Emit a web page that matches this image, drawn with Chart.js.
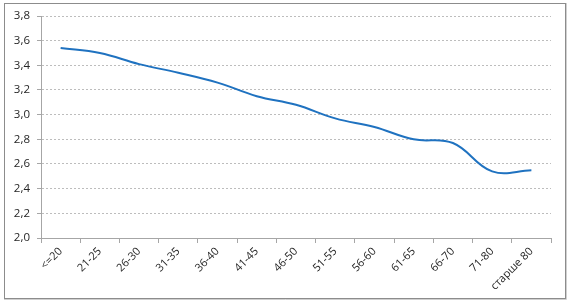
<!DOCTYPE html>
<html>
<head>
<meta charset="utf-8">
<script src="https://cdn.jsdelivr.net/npm/chart.js@4/dist/chart.umd.min.js"></script>
<style>
html,body{margin:0;padding:0;background:#fff;}
#wrap{position:relative;width:570px;height:304px;}
</style>
</head>
<body>
<div id="wrap"><canvas id="c" width="570" height="304"></canvas></div>
<script>
const categories = ['<=20','21-25','26-30','31-35','36-40','41-45','46-50','51-55','56-60','61-65','66-70','71-80','старше 80'];
const values = [3.54, 3.50, 3.41, 3.34, 3.26, 3.15, 3.08, 2.97, 2.90, 2.80, 2.77, 2.54, 2.55];
const yTickLabels = ['2,0','2,2','2,4','2,6','2,8','3,0','3,2','3,4','3,6','3,8'];

const frame = {
  id: 'frame',
  afterDraw(chart) {
    const ctx = chart.ctx;
    ctx.save();
    ctx.strokeStyle = '#d0d0d0';
    ctx.lineWidth = 1;
    ctx.beginPath();
    ctx.moveTo(566.5, 3);
    ctx.lineTo(566.5, 299.5);
    ctx.lineTo(4, 299.5);
    ctx.stroke();
    ctx.strokeStyle = '#8c8c8c';
    ctx.strokeRect(4.5, 3.5, 561, 295);
    ctx.restore();
  }
};

new Chart(document.getElementById('c'), {
  type: 'line',
  data: {
    labels: categories,
    datasets: [{
      data: values,
      borderColor: '#1f72c0',
      borderWidth: 2,
      pointRadius: 0,
      tension: 0.4,
      fill: false
    }]
  },
  options: {
    responsive: false,
    animation: false,
    devicePixelRatio: 1,
    layout: { padding: { left: 0, right: 19, top: 16, bottom: 0 } },
    plugins: { legend: { display: false }, tooltip: { enabled: false } },
    scales: {
      x: {
        offset: true,
        grid: { offset: true, drawOnChartArea: false, drawTicks: true, tickLength: 5, color: '#a6a6a6' },
        border: { display: true, color: '#a6a6a6', width: 1 },
        ticks: {
          autoSkip: false,
          maxRotation: 45, minRotation: 45,
          padding: 2,
          color: '#262626',
          font: { family: 'Open Sans', size: 11 }
        },
        afterFit(s) { s.height = 66; }
      },
      y: {
        min: 2.0, max: 3.8,
        grid: { color: '#bdbdbd', tickLength: 4, tickColor: '#a6a6a6', tickBorderDash: [] },
        border: { display: true, color: '#a6a6a6', width: 1, dash: [2, 2] },
        ticks: {
          stepSize: 0.2,
          padding: 7,
          color: '#262626',
          font: { family: 'Open Sans', size: 11.5 },
          callback: (v, i) => yTickLabels[i]
        },
        afterFit(s) { s.width = 41; }
      }
    }
  },
  plugins: [frame]
});
</script>
</body>
</html>
